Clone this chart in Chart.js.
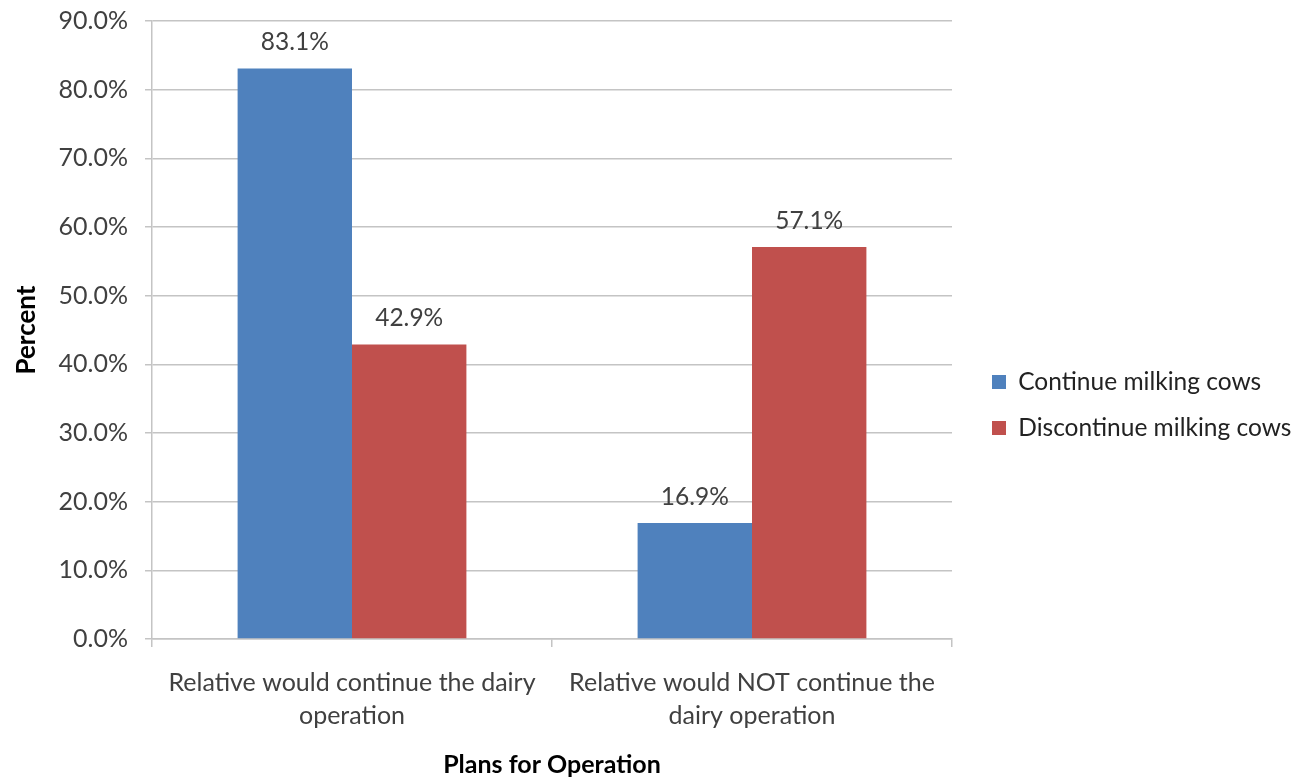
<!DOCTYPE html>
<html><head><meta charset="utf-8">
<script src="https://cdn.jsdelivr.net/npm/chart.js@4"></script>
<style>html,body{margin:0;padding:0;background:#fff;overflow:hidden}</style>
</head><body>
<canvas id="c" width="1303" height="781" style="display:block;width:1303px;height:781px"></canvas>
<script>
const categories = [["Relative would continue the dairy", "operation"], ["Relative would NOT continue the", "dairy operation"]];
const seriesNames = ["Continue milking cows", "Discontinue milking cows"];
const continueValues = [83.1, 16.9];
const discontinueValues = [42.9, 57.1];
const yTickValues = [0, 10, 20, 30, 40, 50, 60, 70, 80, 90];

const FONT = "Lato, 'Open Sans', sans-serif";
const GRID = "#c4c4c4";
const TEXT = "#404040";
const LEGEND_W = 351;
const LEG_PAD = 21.5;
const LEG_BOX_X = 992;
const LEG_DY = 4;

const valueLabels = {
  id: 'valueLabels',
  afterDatasetsDraw(chart) {
    const ctx = chart.ctx;
    ctx.save();
    ctx.font = "24.5px " + FONT;
    ctx.fillStyle = TEXT;
    ctx.textAlign = 'center';
    ctx.textBaseline = 'middle';
    chart.data.datasets.forEach((ds, i) => {
      chart.getDatasetMeta(i).data.forEach((bar, j) => {
        ctx.fillText(ds.data[j].toFixed(1) + '%', bar.x, bar.y - 26);
      });
    });
    ctx.restore();
  }
};
const legendPlace = {
  id: 'legendPlace',
  afterInit(chart) {
    const lg = chart.legend;
    const origFit = lg.fit.bind(lg);
    lg.fit = function () { origFit(); this.width = LEGEND_W; };
  },
  afterLayout(chart) {
    const lg = chart.legend;
    const dx = (LEG_BOX_X - LEG_PAD) - lg.left;
    lg.left += dx; lg.right += dx;
    lg.top += LEG_DY; lg.bottom += LEG_DY;
  }
};

new Chart(document.getElementById('c'), {
  type: 'bar',
  data: {
    labels: categories,
    datasets: [
      { label: seriesNames[0], data: continueValues, backgroundColor: '#4F81BD', borderWidth: 0 },
      { label: seriesNames[1], data: discontinueValues, backgroundColor: '#C0504D', borderWidth: 0 }
    ]
  },
  options: {
    responsive: false,
    devicePixelRatio: 1,
    animation: false,
    layout: { padding: { left: 0, right: 0, top: 21, bottom: 0 } },
    categoryPercentage: 0.572,
    barPercentage: 1.0,
    plugins: {
      tooltip: { enabled: false },
      legend: {
        position: 'right',
        align: 'center',
        labels: {
          font: { family: FONT, size: 24.5 },
          color: '#222',
          boxWidth: 14, boxHeight: 14,
          padding: LEG_PAD
        }
      }
    },
    scales: {
      x: {
        offset: true,
        grid: { display: true, drawOnChartArea: false, drawTicks: true, tickLength: 8, color: GRID, lineWidth: 1.5, offset: true },
        border: { display: true, color: GRID, width: 1.5 },
        ticks: { font: { family: FONT, size: 25, lineHeight: 1.3 }, color: TEXT, padding: 20, maxRotation: 0, autoSkip: false },
        title: { display: true, text: 'Plans for Operation', font: { family: FONT, size: 25, weight: 'bold' }, color: '#000', padding: { top: 0, bottom: 1 } },
        afterFit(s) { s.height = 781 - 639; s.paddingLeft = 0; s.paddingRight = 0; }
      },
      y: {
        min: 0, max: 90,
        afterBuildTicks(s) { s.ticks = yTickValues.map(v => ({ value: v })); },
        grid: { color: GRID, lineWidth: 1.5, drawTicks: true, tickLength: 7 },
        border: { display: true, color: GRID, width: 1.5 },
        ticks: { font: { family: FONT, size: 25 }, color: TEXT, padding: 17, callback: v => v.toFixed(1) + '%' },
        title: { display: true, text: 'Percent', font: { family: FONT, size: 26, weight: 'bold' }, color: '#000', padding: { top: 11, bottom: 0 } },
        afterFit(s) { s.width = 152; s.paddingTop = 0; s.paddingBottom = 0; }
      }
    }
  },
  plugins: [valueLabels, legendPlace]
});
</script>
</body></html>
